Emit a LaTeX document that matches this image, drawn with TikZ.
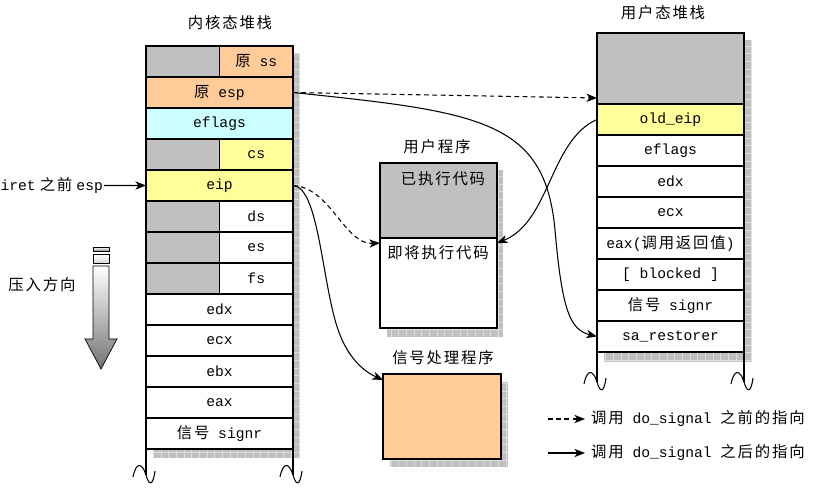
\documentclass[tikz,border=0pt]{standalone}
\usepackage{fontspec}
\setmainfont{Liberation Mono}
\newfontfamily\cjk{Noto Sans CJK SC}[Scale=1.05,LetterSpace=12]
\usetikzlibrary{positioning,arrows.meta,calc}
\definecolor{graycell}{RGB}{192,192,192}
\definecolor{orangecell}{RGB}{255,204,153}
\definecolor{cyancell}{RGB}{204,255,255}
\definecolor{yellowcell}{RGB}{255,255,153}
\definecolor{shadowline}{RGB}{222,222,222}

\begin{document}
\begin{tikzpicture}[x=0.03cm, y=-0.03cm, >={Stealth[length=9pt,width=7pt,inset=2.5pt]},
  every node/.style={font=\fontsize{12.5}{15}\selectfont, inner sep=1pt, outer sep=0pt},
  cell/.style={draw, line width=0.9pt, fill=white, minimum width=4.41cm, minimum height=0.93cm},
  halfcell/.style={cell, minimum width=2.205cm},
  title/.style={font=\fontsize{12.5}{15}\selectfont\cjk},
  frame/.style={line width=1.4pt},
  link/.style={->, line width=0.9pt},
  before/.style={link, dash pattern=on 4pt off 3pt}]
        \useasboundingbox (0,0) rectangle (837,488);

        % Drop shadows behind the stacks and boxes
        \fill[graycell] (153,53) rectangle (300,458);
        \draw[shadowline, step=0.23cm] (153,53) grid (300,458);
        \fill[graycell] (604,40) rectangle (752,362);
        \draw[shadowline, step=0.23cm] (604,40) grid (752,362);
        \fill[graycell] (387,170) rectangle (503,337);
        \draw[shadowline, step=0.23cm] (387,170) grid (503,337);
        \fill[graycell] (390,382) rectangle (508,467);
        \draw[shadowline, step=0.23cm] (390,382) grid (508,467);

        % Kernel stack
        \node[title] (ktitle) at (230,23) {内核态堆栈};
        \node[cell] (kss) at (219.5,61.5) {};
        \node[halfcell, fill=graycell, anchor=west] (kssgap) at (kss.west) {};
        \node[halfcell, fill=orangecell, anchor=east] (kssval) at (kss.east) {{\cjk 原} ss};
        \node[cell, fill=orangecell, below=0pt of kss] (kesp) {{\cjk 原} esp};
        \node[cell, fill=cyancell, below=0pt of kesp] (keflags) {eflags};
        \node[cell, below=0pt of keflags] (kcs) {};
        \node[halfcell, fill=graycell, anchor=west] (kcsgap) at (kcs.west) {};
        \node[halfcell, fill=yellowcell, anchor=east] (kcsval) at (kcs.east) {cs};
        \node[cell, fill=yellowcell, below=0pt of kcs] (keip) {eip};
        \node[cell, below=0pt of keip] (kds) {};
        \node[halfcell, fill=graycell, anchor=west] (kdsgap) at (kds.west) {};
        \node[halfcell, anchor=east] (kdsval) at (kds.east) {ds};
        \node[cell, below=0pt of kds] (kes) {};
        \node[halfcell, fill=graycell, anchor=west] (kesgap) at (kes.west) {};
        \node[halfcell, anchor=east] (kesval) at (kes.east) {es};
        \node[cell, below=0pt of kes] (kfs) {};
        \node[halfcell, fill=graycell, anchor=west] (kfsgap) at (kfs.west) {};
        \node[halfcell, anchor=east] (kfsval) at (kfs.east) {fs};
        \node[cell, below=0pt of kfs] (kedx) {edx};
        \node[cell, below=0pt of kedx] (kecx) {ecx};
        \node[cell, below=0pt of kecx] (kebx) {ebx};
        \node[cell, below=0pt of kebx] (keax) {eax};
        \node[cell, below=0pt of keax] (ksignr) {{\cjk 信号} signr};
        \draw[frame] (kss.north west) -- (kss.north east);
        \draw[frame] (kss.north west) -- (ksignr.south west) -- ++(0,26);
        \draw[frame] (kss.north east) -- (ksignr.south east) -- ++(0,26);

        % User stack
        \node[title] (utitle) at (663,13) {用户态堆栈};
        \node[cell, fill=graycell, minimum height=2.13cm] (utop) at (670.5,68.5) {};
        \node[cell, fill=yellowcell, below=0pt of utop] (uoldeip) {old\_eip};
        \node[cell, below=0pt of uoldeip] (ueflags) {eflags};
        \node[cell, below=0pt of ueflags] (uedx) {edx};
        \node[cell, below=0pt of uedx] (uecx) {ecx};
        \node[cell, below=0pt of uecx] (ueax) {eax({\cjk 调用返回值})};
        \node[cell, below=0pt of ueax] (ublocked) {[ blocked ]};
        \node[cell, below=0pt of ublocked] (usignr) {{\cjk 信号} signr};
        \node[cell, below=0pt of usignr] (urestorer) {sa\_restorer};
        \draw[frame] (utop.north west) -- (utop.north east);
        \draw[frame] (utop.north west) -- (urestorer.south west) -- ++(0,30);
        \draw[frame] (utop.north east) -- (urestorer.south east) -- ++(0,30);

        % Broken-off stack ends
        \foreach \x/\y in {146/475, 293/475, 597/382, 744/382}
          \draw[line width=0.9pt] (\x-13,\y+2) .. controls (\x-10,\y-13) and (\x-4,\y-13) .. (\x,\y)
            .. controls (\x+3,\y+11) and (\x+7,\y+11) .. (\x+9,\y-4);

        % User program
        \node[title] (ptitle) at (437,147) {用户程序};
        \node[cell, fill=graycell, minimum width=3.51cm, minimum height=2.25cm] (pdone) at (438.5,200.5) {};
        \node[cell, minimum width=3.51cm, minimum height=2.7cm, below=0pt of pdone] (pnext) {};
        \node[title] (pdonetxt) at (443,179) {已执行代码};
        \node[title] (pnexttxt) at (438,253) {即将执行代码};

        % Signal handler
        \node[title] (stitle) at (443,358) {信号处理程序};
        \node[cell, fill=orangecell, minimum width=3.54cm, minimum height=2.55cm] (sig) at (442,416.5) {};

        % Left-hand labels
        \node[anchor=east] (iretlbl) at (104,185.5) {iret\hspace{3.5pt}{\cjk 之前}\hspace{3.5pt}esp};
        \draw[link] (iretlbl) -- (keip);
        \node[title] (pushtxt) at (42,285) {压入方向};
        \shade[top color=white, bottom color=gray!85, draw=black, line width=0.6pt]
          (93,247) rectangle (109,251);
        \shade[top color=white, bottom color=gray!30, draw=black, line width=0.6pt]
          (93,254) rectangle (109,263);
        \shade[top color=white, bottom color=gray!90!black, draw=black, line width=0.6pt]
          (93,266) -- (109,266) -- (109,339) -- (117,339) -- (101,369) -- (85,339) -- (93,339) -- cycle;

        % Pointers before do_signal
        \draw[before] (kesp.east) -- ($(utop.south west)+(0,-6)$);
        \draw[before] (keip.east) .. controls (330,187) and (345,245) .. ($(pnext.north west)+(0,5)$);

        % Pointers after do_signal
        \draw[link] (kesp.east) .. controls (480,112) and (545,120) .. (555,230)
          .. controls (562,310) and (570,330) .. (urestorer.west);
        \draw[link] (uoldeip.west) .. controls (550,140) and (550,222) .. ($(pnext.north east)+(0,5)$);
        \draw[link] (keip.east) .. controls (320,187) and (322,290) .. (340,335)
          .. controls (350,360) and (365,372) .. ($(sig.north west)+(0,6)$);

        % Legend
        \coordinate (ldashs) at (548,419);
        \coordinate (ldashe) at (585,419);
        \draw[before] (ldashs) -- (ldashe);
        \node[anchor=west] (ldashtxt) at (590,419) {{\cjk 调用} do\_signal {\cjk 之前的指向}};
        \coordinate (lsolids) at (548,453);
        \coordinate (lsolide) at (585,453);
        \draw[link] (lsolids) -- (lsolide);
        \node[anchor=west] (lsolidtxt) at (590,453) {{\cjk 调用} do\_signal {\cjk 之后的指向}};
      \end{tikzpicture}
\end{document}
